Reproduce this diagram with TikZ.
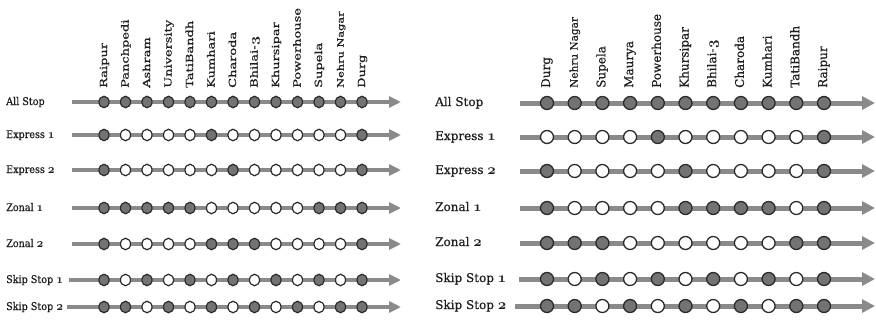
\documentclass[tikz,border=0pt]{standalone}
\usepackage{fontspec}
\setmainfont{DejaVu Serif}
\newfontfamily\lblfont{DejaVu Serif}[FakeBold=0.6]
\usetikzlibrary{arrows.meta,shapes.geometric}

\definecolor{railgray}{HTML}{8A8A8A}
\definecolor{stopfill}{HTML}{737373}
\definecolor{rimcol}{HTML}{2B2B2B}
\definecolor{inkcol}{HTML}{1E1E1E}

% old-style figures, as in the route names
\newcommand\osn[1]{\scalebox{1.22}{{\boldmath$\mathnormal{#1}$}}}

\tikzset{
  rowlab/.style={anchor=west, inner sep=0pt, text height=9pt, text depth=3pt,
                 font=\lblfont\fontsize{12}{14}\selectfont},
  stnlab/.style={rotate=90, anchor=west, inner sep=0pt, text height=8.5pt, text depth=2.5pt,
                 font=\lblfont\fontsize{12}{14}\selectfont},
  trackL/.style={draw=railgray, line width=4.6pt, -{Triangle[length=12pt,width=11pt]}},
  trackR/.style={draw=railgray, line width=5pt, -{Triangle[length=13pt,width=13pt]}},
  stopL/.style={ellipse, inner sep=0pt, minimum width=10pt, minimum height=11.5pt,
                draw=rimcol, line width=1.2pt},
  stopR/.style={circle, inner sep=0pt, minimum size=13pt, draw=rimcol, line width=1.3pt},
  s1/.style={fill=stopfill},
  s0/.style={fill=white},
}

\begin{document}
\begin{tikzpicture}[x=1pt, y=-1pt, text=inkcol]
\useasboundingbox (0,0) rectangle (876,322);

% ---------------- outbound: Raipur to Durg ----------------
\foreach \nm [count=\i] in {Raipur, Panchpedi, Ashram, University, TatiBandh, Kumhari,
    Charoda, Bhilai-\osn{3}, Khursipar, Powerhouse, Supela,
    {\fontsize{10.5}{12}\selectfont Nehru Nagar}, Durg}{
  \pgfmathsetmacro\xx{104+21.5*(\i-1)}
  \node[stnlab] (LS\i) at (\xx,88) {\scalebox{1.08}[0.82]{\nm}};
}

\foreach \lbl/\y/\xs/\pat [count=\r] in {
  {All Stop}/102/72/{1,1,1,1,1,1,1,1,1,1,1,1,1},
  {Express \osn{1}}/135/72/{1,0,0,0,0,1,0,0,0,0,0,0,1},
  {Express \osn{2}}/170/72/{1,0,0,0,0,0,1,0,0,0,0,0,1},
  {Zonal \osn{1}}/208/72/{1,1,1,1,1,0,0,0,0,0,1,1,1},
  {Zonal \osn{2}}/244/72/{1,0,0,0,0,1,1,1,0,0,0,0,1},
  {Skip Stop \osn{1}}/280/69/{1,0,1,0,1,0,1,0,1,0,1,0,1},
  {Skip Stop \osn{2}}/307/67/{1,1,0,1,0,1,0,1,0,1,0,1,1}}{
  \node[rowlab] (LR\r) at (6,\y) {\scalebox{0.8}[0.88]{\lbl}};
  \coordinate (LR\r s) at (\xs,\y);
  \coordinate (LR\r e) at (401,\y);
  \draw[trackL] (LR\r s) -- (LR\r e);
  \foreach \f [count=\i] in \pat {
    \pgfmathsetmacro\xx{104+21.5*(\i-1)}
    \node[stopL, s\f] (L\r-\i) at (\xx,\y) {};
  }
}

% ---------------- inbound: Durg to Raipur ----------------
\foreach \nm [count=\i] in {Durg, {\fontsize{10.5}{12}\selectfont Nehru Nagar}, Supela,
    Maurya, Powerhouse, Khursipar, Bhilai-\osn{3}, Charoda, Kumhari, TatiBandh, Raipur}{
  \pgfmathsetmacro\xx{547+27.7*(\i-1)}
  \node[stnlab] (RS\i) at (\xx,88) {\nm};
}

\foreach \lbl/\y/\xs/\pat [count=\r] in {
  {All Stop}/103/520/{1,1,1,1,1,1,1,1,1,1,1},
  {Express \osn{1}}/137/520/{0,0,0,0,1,0,0,0,0,0,1},
  {Express \osn{2}}/171/520/{1,0,0,0,0,1,0,0,0,0,1},
  {Zonal \osn{1}}/208/520/{1,0,0,0,0,1,1,1,1,0,1},
  {Zonal \osn{2}}/243/520/{1,1,1,0,0,0,0,0,0,1,1},
  {Skip Stop \osn{1}}/279/519/{1,0,1,0,1,0,1,0,1,0,1},
  {Skip Stop \osn{2}}/306/515/{1,1,0,1,0,1,0,1,0,1,1}}{
  \node[rowlab] (RR\r) at (435,\y) {\lbl};
  \coordinate (RR\r s) at (\xs,\y);
  \coordinate (RR\r e) at (875,\y);
  \draw[trackR] (RR\r s) -- (RR\r e);
  \foreach \f [count=\i] in \pat {
    \pgfmathsetmacro\xx{547+27.7*(\i-1)}
    \node[stopR, s\f] (R\r-\i) at (\xx,\y) {};
  }
}
\end{tikzpicture}
\end{document}
